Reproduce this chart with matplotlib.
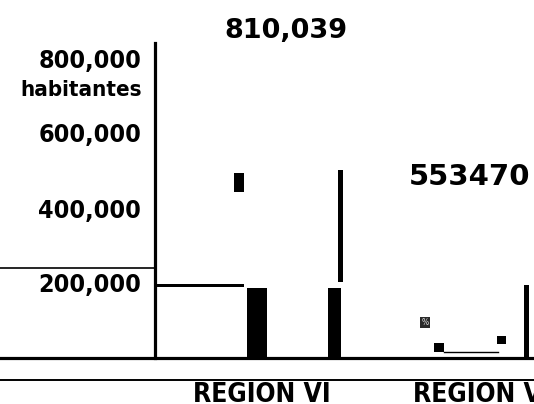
import matplotlib
matplotlib.use("Agg")
import matplotlib.pyplot as plt

plt.rcParams['font.family'] = ['DejaVu Sans']

# population axis
y_ticks = [200000, 400000, 600000, 800000]
y_tick_labels = ["200,000", "400,000", "600,000", "800,000"]
y_unit = "habitantes"

# region labels and headline totals
regions = ["REGION VI", "REGION VII"]
region_x = [1.07, 2.58]
totals = ["810,039", "553470"]
total_x = [1.31, 3.15]
total_y = [872000, 483000]
total_size = [19.5, 21]

# bar pieces: centre, width, bottom, height
bar_x = [1.02, 1.795, 3.715, 0.455, 0.84, 1.855, 2.84, 3.465]
bar_w = [0.20, 0.13, 0.05, 0.87, 0.10, 0.05, 0.10, 0.09]
bar_bottom = [0, 0, 0, 189000, 443000, 203000, 16000, 37000]
bar_height = [187000, 187000, 195000, 8000, 50000, 298000, 24000, 22000]

# small percentage marker and connector
pct_x, pct_w, pct_bottom, pct_height = 2.70, 0.10, 80000, 29000
link_x = [2.89, 3.43]
link_y = [16000, 16000]

fig = plt.figure(figsize=(5.34, 4.04), dpi=100)
ax = fig.add_axes([155 / 534, 46 / 404, 379 / 534, 315 / 404])
ax.set_xlim(0, 3.79)
ax.set_ylim(0, 840000)

for s in ["top", "right", "bottom"]:
    ax.spines[s].set_visible(False)
ax.spines["left"].set_linewidth(2.3)
ax.spines["left"].set_color("black")

ax.bar(bar_x, bar_height, width=bar_w, bottom=bar_bottom, color="black",
       edgecolor="none")
ax.bar([pct_x], [pct_height], width=pct_w, bottom=[pct_bottom], color="#2a2a2a",
       edgecolor="none")
ax.text(pct_x, pct_bottom + pct_height / 2, "%", color="#dddddd", fontsize=5.5,
        ha="center", va="center")
ax.plot(link_x, link_y, color="black", lw=1.0)

# baselines and the guide line on the left
ax.axhline(0, xmin=-155 / 379, xmax=1, color="black", lw=2.3, clip_on=False)
ax.axhline(-59000, xmin=-155 / 379, xmax=1, color="black", lw=1.4, clip_on=False)
ax.axhline(240000, xmin=-155 / 379, xmax=0, color="black", lw=1.2, clip_on=False)

ax.set_xticks([])
ax.set_yticks(y_ticks)
ax.set_yticklabels(y_tick_labels, fontsize=18, fontweight="bold",
                   fontstretch="condensed")
ax.tick_params(axis="y", length=0, pad=10)
ax.text(-0.13, 716000, y_unit, fontsize=16, fontweight="bold",
        fontstretch="condensed", ha="right", va="center")

for x, y, lab, fs in zip(total_x, total_y, totals, total_size):
    ax.text(x, y, lab, fontsize=fs, fontweight="bold", ha="center",
            va="center", clip_on=False)

# region names sit under the lower rule and run off the bottom edge
ax.text(region_x[0], -64000, regions[0], fontsize=19, fontweight="bold",
        fontstretch="condensed", ha="center", va="top")
ax.text(region_x[1], -64000, regions[1], fontsize=19, fontweight="bold",
        fontstretch="condensed", ha="left", va="top")

fig.savefig("out.png", dpi=100)
